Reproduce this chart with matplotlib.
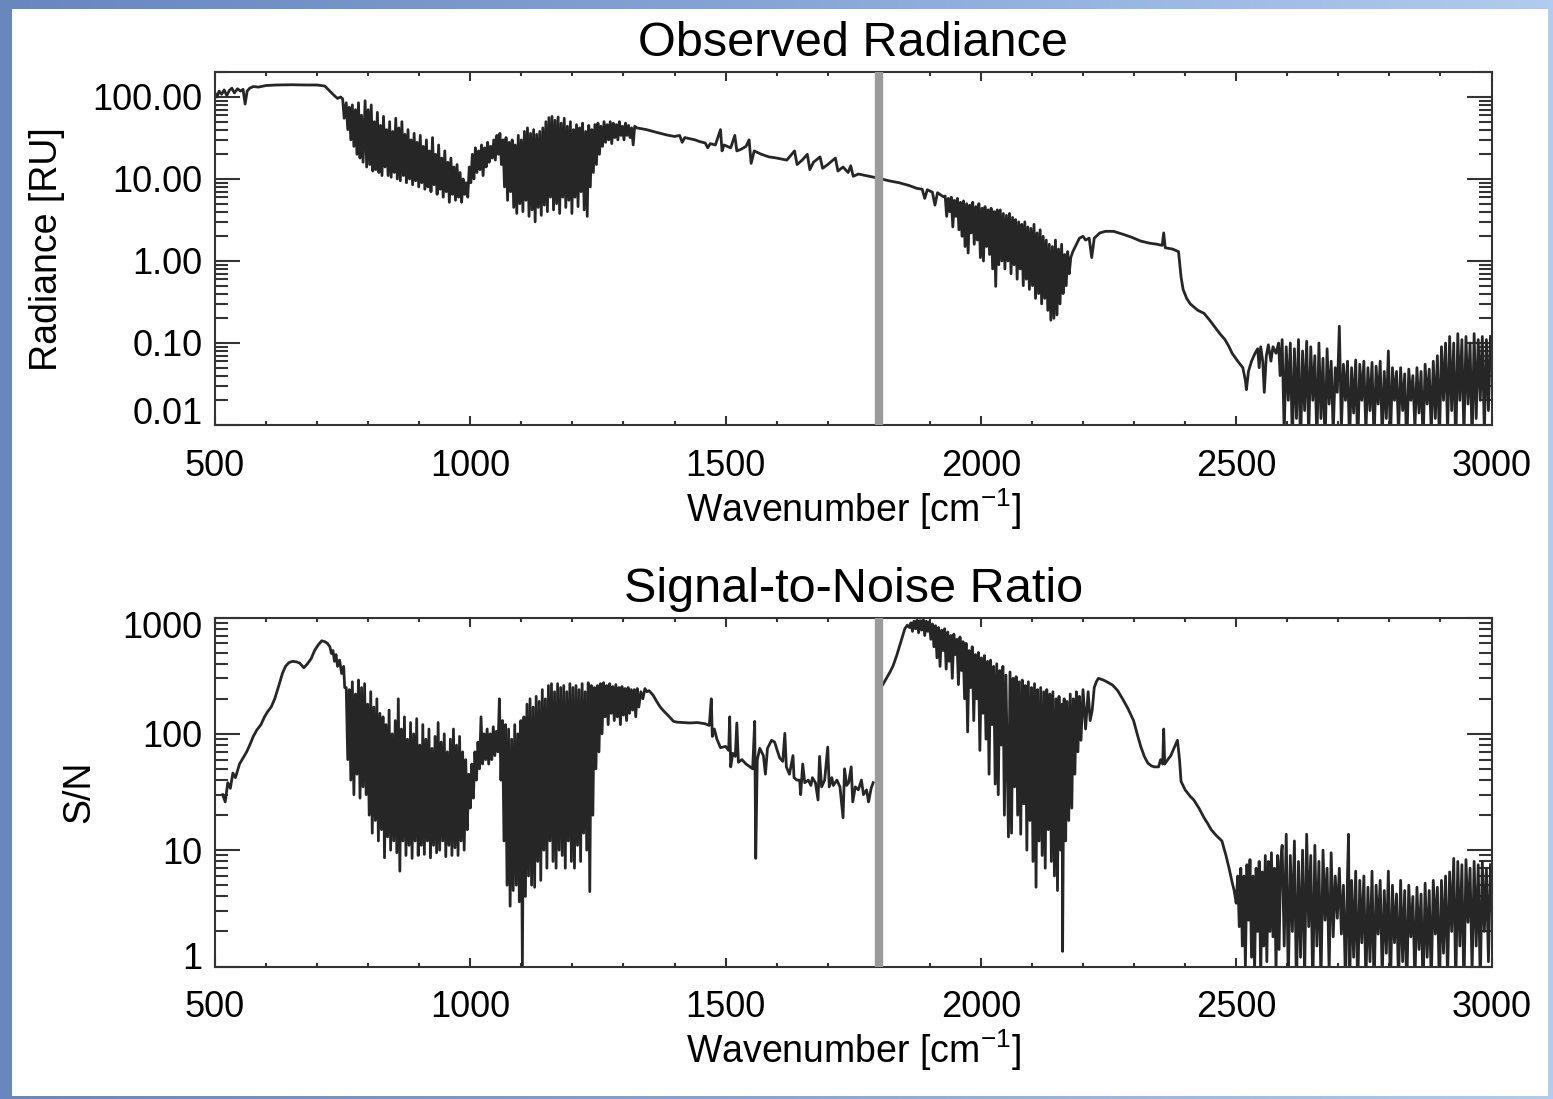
"""Observed radiance and signal-to-noise spectra, two stacked log panels."""
import numpy as np
import matplotlib
matplotlib.use('Agg')
import matplotlib.pyplot as plt
import matplotlib.transforms as mtransforms
from matplotlib.ticker import LogLocator, NullFormatter, MultipleLocator
from matplotlib.colors import LinearSegmentedColormap
from matplotlib.patches import Rectangle

plt.rcParams['font.family'] = ['Liberation Sans', 'DejaVu Sans']
plt.rcParams['mathtext.fontset'] = 'custom'
plt.rcParams['mathtext.rm'] = 'Liberation Sans'
plt.rcParams['mathtext.it'] = 'Liberation Sans:italic'

# ---- radiance [RU], (wavenumber, value) ----
rad_window = [(500, 112), (504, 100), (508, 118), (513, 108), (518, 122), (523, 104), (528, 120),
              (533, 128), (538, 112), (544, 126), (550, 118), (555, 124), (559, 82), (563, 118),
              (568, 128), (575, 134), (585, 132), (600, 138), (620, 140), (650, 141), (680, 140),
              (700, 140), (715, 136), (725, 118), (733, 105), (740, 96), (746, 100)]

rad_band_lw = [(750, 95), (753, 55), (757, 85), (760, 40), (763, 75), (766, 30), (769, 80), (772, 25),
               (775, 70), (778, 20), (781, 85), (784, 18), (787, 60), (790, 16), (794, 90), (797, 14),
               (800, 70), (803, 15), (806, 80), (809, 12.5), (812, 50), (815, 13), (818, 65), (821, 12),
               (824, 45), (827, 11), (830, 58), (833, 14), (836, 40), (839, 11), (842, 50), (845, 10.5),
               (848, 38), (851, 12), (854, 55), (857, 10), (860, 42), (863, 9.5), (866, 50), (869, 11),
               (872, 35), (875, 9), (878, 40), (881, 10), (884, 30), (887, 8.5), (890, 36), (893, 9.5),
               (896, 28), (899, 8), (902, 34), (905, 9), (908, 25), (911, 7.5), (914, 30), (917, 8),
               (920, 22), (923, 7), (926, 32), (929, 8.5), (932, 20), (935, 6.5), (938, 26), (941, 7.5),
               (944, 18), (947, 6), (950, 22), (953, 7), (956, 16), (959, 5.2), (962, 18), (965, 6.5),
               (968, 14), (971, 5.5), (974, 15), (977, 6), (980, 12), (983, 5.2), (986, 10), (989, 6.5),
               (992, 9), (995, 6), (998, 14), (1001, 9), (1004, 20), (1007, 10), (1010, 24), (1013, 12),
               (1016, 22), (1019, 13), (1022, 26), (1025, 11), (1028, 24), (1031, 14), (1034, 28),
               (1037, 16), (1040, 25), (1043, 18), (1046, 30), (1049, 17), (1052, 34), (1055, 20),
               (1058, 36), (1061, 15), (1064, 30), (1067, 8), (1070, 32), (1073, 5.5), (1076, 28),
               (1079, 7), (1082, 30), (1085, 4.5), (1088, 26), (1091, 3.8), (1094, 34), (1097, 5),
               (1100, 30), (1103, 4), (1106, 38), (1109, 5.5), (1112, 42), (1115, 3.5), (1118, 36),
               (1121, 4.2), (1124, 40), (1127, 3.0), (1130, 35), (1133, 4.5), (1136, 38), (1139, 3.6),
               (1142, 42), (1145, 4.8), (1148, 50), (1151, 4.0), (1154, 56), (1157, 6), (1160, 58),
               (1163, 4.2), (1166, 52), (1169, 5), (1172, 57), (1175, 3.8), (1178, 48), (1181, 6),
               (1184, 55), (1187, 4.5), (1190, 44), (1193, 5.5), (1196, 50), (1199, 3.8), (1202, 40),
               (1205, 6), (1208, 46), (1211, 4.6), (1214, 42), (1217, 7), (1220, 48), (1223, 4.2),
               (1226, 38), (1229, 3.5), (1232, 45), (1235, 8), (1238, 40), (1241, 12), (1244, 46),
               (1247, 15), (1250, 48), (1253, 20), (1256, 44), (1259, 25), (1262, 50), (1265, 28),
               (1268, 46), (1271, 30), (1274, 50), (1277, 27), (1280, 48), (1283, 32), (1286, 46),
               (1289, 30), (1292, 50), (1295, 34), (1298, 44), (1301, 30), (1304, 48), (1307, 34),
               (1310, 45), (1313, 32), (1316, 42), (1319, 26), (1322, 44), (1326, 42)]

rad_mid = [(1345, 40), (1365, 37), (1385, 34.4), (1400, 33), (1410, 34), (1415, 28), (1420, 32),
           (1440, 30), (1450, 28.5), (1460, 27.5), (1465, 24), (1470, 27), (1480, 26), (1490, 40),
           (1493, 22), (1497, 26), (1510, 24), (1518, 34), (1522, 22), (1530, 23), (1540, 25),
           (1546, 30), (1550, 15.5), (1556, 22), (1570, 20), (1585, 18.6), (1600, 18), (1620, 17),
           (1635, 22), (1640, 15), (1650, 17), (1660, 20), (1665, 13), (1672, 16), (1685, 18.6),
           (1690, 13.5), (1700, 15), (1715, 18), (1720, 12.5), (1730, 14), (1740, 12), (1745, 14.5),
           (1750, 10.8), (1760, 11.5), (1775, 11), (1790, 10.5), (1800, 10.2), (1820, 9.5),
           (1840, 9), (1860, 8.3), (1874, 7.7), (1885, 7.5), (1890, 5.8), (1895, 7.4), (1905, 6.9),
           (1910, 4.8), (1915, 6.8), (1926, 6.1)]

rad_band_h2o = [(1930, 6.2), (1933, 3.5), (1936, 5.8), (1939, 4), (1942, 6), (1945, 2.6), (1948, 5.5),
                (1951, 3.5), (1954, 5.8), (1957, 2.4), (1960, 5.2), (1963, 2.0), (1966, 5.4), (1969, 1.5),
                (1972, 5.0), (1975, 1.25), (1978, 4.8), (1981, 2.2), (1984, 5.2), (1987, 1.6), (1990, 4.6),
                (1993, 1.8), (1996, 5.0), (1999, 1.1), (2002, 4.4), (2005, 1.0), (2008, 4.6), (2011, 1.5),
                (2014, 4.2), (2017, 1.2), (2020, 4.4), (2023, 0.8), (2026, 4.0), (2029, 0.49), (2032, 4.2),
                (2035, 0.9), (2038, 4.2), (2041, 1.0), (2044, 3.8), (2047, 0.8), (2050, 3.6), (2053, 1.0),
                (2056, 3.8), (2059, 0.7), (2062, 3.4), (2065, 0.9), (2068, 3.2), (2071, 0.6), (2074, 3.0),
                (2077, 0.8), (2080, 2.8), (2083, 0.5), (2086, 3.0), (2089, 0.6), (2092, 2.6), (2095, 0.45),
                (2098, 2.5), (2101, 0.5), (2104, 2.8), (2107, 0.35), (2110, 2.2), (2113, 0.4), (2116, 2.4),
                (2119, 0.3), (2122, 2.0), (2125, 0.35), (2128, 1.8), (2131, 0.25), (2134, 1.6), (2137, 0.19),
                (2140, 1.5), (2143, 0.2), (2146, 1.8), (2149, 0.22), (2152, 1.4), (2155, 0.3), (2158, 1.6),
                (2161, 0.4), (2164, 1.2), (2167, 0.5), (2170, 1.3), (2173, 0.7), (2176, 1.1), (2180, 1.3)]

rad_edge = [(2187, 1.6), (2193, 1.9), (2200, 2.0), (2205, 1.8), (2212, 1.9), (2217, 1.1), (2222, 1.9),
            (2233, 2.2), (2244, 2.3), (2260, 2.3), (2280, 2.1), (2295, 1.95), (2313, 1.75), (2330, 1.65),
            (2345, 1.6), (2355, 1.55), (2358, 2.2), (2361, 1.45), (2375, 1.4), (2387, 1.3), (2392, 0.64),
            (2396, 0.45), (2403, 0.35), (2410, 0.3), (2425, 0.25), (2437, 0.23), (2448, 0.19),
            (2457, 0.16), (2468, 0.13), (2478, 0.11), (2486, 0.09), (2492, 0.075), (2503, 0.06),
            (2513, 0.05), (2518, 0.035), (2520, 0.027), (2524, 0.045), (2530, 0.06), (2537, 0.075),
            (2542, 0.085), (2545, 0.05), (2548, 0.09), (2552, 0.06), (2555, 0.025), (2559, 0.07),
            (2563, 0.095), (2568, 0.06), (2572, 0.09), (2578, 0.075), (2583, 0.1), (2586, 0.04)]

rad_noise = [(2590, 0.11), (2594, 0.008), (2598, 0.09), (2602, 0.02), (2606, 0.1), (2610, 0.006),
             (2614, 0.085), (2618, 0.012), (2622, 0.11), (2626, 0.005), (2630, 0.08), (2634, 0.015),
             (2638, 0.105), (2642, 0.007), (2646, 0.09), (2650, 0.02), (2654, 0.07), (2658, 0.006),
             (2662, 0.1), (2666, 0.012), (2670, 0.065), (2674, 0.005), (2678, 0.085), (2682, 0.018),
             (2686, 0.06), (2690, 0.008), (2694, 0.05), (2698, 0.025), (2702, 0.16), (2706, 0.009),
             (2710, 0.055), (2714, 0.02), (2718, 0.06), (2722, 0.006), (2726, 0.05), (2730, 0.014),
             (2734, 0.062), (2738, 0.005), (2742, 0.055), (2746, 0.02), (2750, 0.06), (2754, 0.008),
             (2758, 0.05), (2762, 0.015), (2766, 0.058), (2770, 0.006), (2774, 0.052), (2778, 0.018),
             (2782, 0.06), (2786, 0.007), (2790, 0.045), (2794, 0.012), (2798, 0.08), (2802, 0.006),
             (2806, 0.05), (2810, 0.02), (2814, 0.045), (2818, 0.008), (2822, 0.05), (2826, 0.015),
             (2830, 0.042), (2834, 0.005), (2838, 0.048), (2842, 0.02), (2846, 0.04), (2850, 0.009),
             (2854, 0.05), (2858, 0.014), (2862, 0.045), (2866, 0.006), (2870, 0.055), (2874, 0.018),
             (2878, 0.048), (2882, 0.008), (2886, 0.06), (2890, 0.012), (2894, 0.07), (2898, 0.006),
             (2902, 0.09), (2906, 0.02), (2910, 0.1), (2914, 0.008), (2918, 0.12), (2922, 0.015),
             (2926, 0.1), (2930, 0.005), (2934, 0.13), (2938, 0.02), (2942, 0.11), (2946, 0.007),
             (2950, 0.12), (2954, 0.018), (2958, 0.1), (2962, 0.006), (2966, 0.13), (2970, 0.012),
             (2974, 0.11), (2978, 0.02), (2982, 0.12), (2986, 0.008), (2990, 0.11), (2994, 0.015),
             (2998, 0.12)]

# ---- signal-to-noise ratio ----
sn_rise = [(515, 30), (520, 26), (525, 38), (530, 34), (535, 46), (540, 42), (548, 55), (555, 62),
           (562, 70), (568, 80), (575, 95), (582, 108), (590, 120), (597, 140), (603, 155), (610, 170),
           (617, 200), (625, 260), (632, 330), (638, 380), (645, 410), (652, 420), (660, 415),
           (666, 405), (674, 370), (680, 395), (688, 440), (695, 520), (702, 580), (709, 630),
           (715, 620), (720, 600), (725, 560), (728, 490), (731, 520), (734, 420), (737, 480),
           (740, 380), (744, 430), (748, 330), (752, 380), (754, 250)]

sn_band_lw = [(757, 250), (760, 60), (763, 240), (766, 40), (769, 280), (772, 30), (775, 220), (778, 45),
              (781, 290), (784, 28), (787, 250), (790, 35), (793, 270), (796, 30), (799, 180), (802, 20),
              (805, 230), (808, 14), (811, 170), (814, 18), (817, 200), (820, 12), (823, 150), (826, 15),
              (829, 140), (832, 8.6), (835, 120), (838, 13), (841, 160), (844, 10), (847, 100), (850, 12),
              (853, 130), (856, 9.5), (859, 200), (862, 6.6), (865, 110), (868, 12), (871, 140), (874, 9),
              (877, 90), (880, 11), (883, 125), (886, 8.5), (889, 100), (892, 12), (895, 135), (898, 9),
              (901, 80), (904, 11), (907, 120), (910, 9.2), (913, 90), (916, 12), (919, 110), (922, 8.6),
              (925, 75), (928, 11), (931, 95), (934, 9.5), (937, 125), (940, 10), (943, 85), (946, 12),
              (949, 100), (952, 8.8), (955, 70), (958, 11), (961, 90), (964, 9), (967, 110), (970, 10.5),
              (973, 80), (976, 9), (979, 95), (982, 12), (985, 70), (988, 10), (991, 60), (994, 15),
              (997, 45), (1000, 23), (1003, 55), (1006, 28), (1009, 70), (1012, 40), (1015, 85),
              (1018, 50), (1021, 140), (1024, 55), (1027, 100), (1030, 60), (1033, 110), (1036, 55),
              (1039, 100), (1042, 60), (1045, 115), (1048, 65), (1051, 105), (1054, 70), (1057, 200),
              (1060, 40), (1063, 130), (1066, 12), (1069, 120), (1072, 5), (1075, 110), (1078, 3.3),
              (1081, 90), (1084, 4.5), (1087, 120), (1090, 5), (1093, 100), (1096, 3.6), (1099, 130),
              (1102, 1.0), (1105, 140), (1108, 4), (1111, 180), (1114, 6), (1117, 200), (1120, 5),
              (1123, 170), (1126, 4.8), (1129, 210), (1132, 8), (1135, 190), (1138, 5.5), (1141, 240),
              (1144, 10), (1147, 200), (1150, 7), (1153, 260), (1156, 12), (1159, 270), (1162, 8),
              (1165, 230), (1168, 7), (1171, 270), (1174, 10), (1177, 250), (1180, 9), (1183, 260),
              (1186, 7), (1189, 230), (1192, 12), (1195, 270), (1198, 8), (1201, 250), (1204, 7),
              (1207, 260), (1210, 11), (1213, 240), (1216, 8), (1219, 270), (1222, 14), (1225, 230),
              (1228, 10), (1231, 275), (1234, 4.4), (1237, 260), (1240, 20), (1243, 250), (1246, 50),
              (1249, 260), (1252, 70), (1255, 270), (1258, 100), (1261, 275), (1264, 140), (1267, 260),
              (1270, 120), (1273, 270), (1276, 150), (1279, 255), (1282, 130), (1285, 265), (1288, 140),
              (1291, 250), (1294, 120), (1297, 255), (1300, 145), (1303, 245), (1306, 130), (1309, 250),
              (1312, 150), (1315, 240), (1318, 160), (1321, 240), (1324, 140), (1327, 245), (1330, 170),
              (1334, 230), (1338, 200), (1342, 245), (1346, 230), (1350, 235)]

sn_mid = [(1358, 215), (1365, 190), (1372, 170), (1380, 155), (1388, 143), (1398, 128), (1405, 126),
          (1417, 125), (1430, 124), (1445, 125), (1460, 122), (1468, 118), (1472, 200), (1474, 95),
          (1478, 110), (1483, 90), (1490, 76), (1500, 78), (1506, 72), (1508, 140), (1510, 52),
          (1514, 68), (1519, 64), (1522, 124), (1525, 57), (1532, 60), (1540, 55), (1548, 52),
          (1553, 50), (1557, 128), (1559, 8.5), (1562, 60), (1567, 75), (1574, 65), (1578, 45),
          (1582, 75), (1590, 88), (1596, 85), (1602, 70), (1606, 62), (1612, 58), (1616, 101),
          (1619, 52), (1625, 45), (1632, 65), (1634, 42), (1640, 40), (1645, 40), (1647, 30),
          (1651, 55), (1655, 38), (1662, 40), (1667, 36), (1670, 42), (1676, 38), (1681, 27),
          (1684, 64), (1688, 35), (1694, 40), (1700, 77), (1703, 35), (1708, 42), (1711, 36),
          (1718, 40), (1724, 35), (1730, 19), (1733, 50), (1737, 36), (1741, 38), (1746, 52),
          (1749, 26), (1754, 35), (1760, 33), (1766, 40), (1770, 30), (1776, 33), (1780, 26),
          (1785, 34), (1789, 38)]

sn_peak = [(1808, 265), (1815, 300), (1822, 340), (1828, 384), (1835, 470), (1841, 574), (1846, 680),
           (1851, 800), (1856, 860), (1860, 820), (1863, 900), (1866, 760), (1869, 930), (1872, 800),
           (1875, 950), (1878, 740), (1881, 940), (1884, 780), (1887, 960), (1890, 700), (1893, 930),
           (1896, 760), (1899, 920), (1902, 650), (1905, 880), (1908, 560), (1911, 850), (1914, 450),
           (1917, 820), (1920, 380), (1923, 780), (1926, 520), (1929, 800), (1932, 360), (1935, 750),
           (1938, 420), (1941, 700), (1944, 300), (1947, 720), (1950, 480), (1953, 650), (1956, 265),
           (1959, 680), (1962, 350), (1965, 620), (1968, 200), (1971, 600), (1974, 104), (1977, 520),
           (1980, 250), (1983, 560), (1986, 130), (1989, 480), (1992, 200), (1995, 500), (1998, 72),
           (2001, 450), (2004, 150), (2007, 470), (2010, 90), (2013, 420), (2016, 45), (2019, 430),
           (2022, 120), (2025, 380), (2028, 37), (2031, 400), (2034, 30), (2037, 350), (2040, 80),
           (2043, 380), (2046, 20), (2049, 320), (2052, 50), (2054, 13), (2057, 340), (2060, 14),
           (2063, 300), (2066, 35), (2069, 310), (2072, 20), (2075, 280), (2078, 13.7), (2081, 290),
           (2084, 25), (2087, 260), (2090, 10), (2093, 280), (2096, 18), (2099, 250), (2102, 8),
           (2105, 270), (2108, 4.8), (2111, 240), (2114, 12), (2117, 250), (2120, 9), (2123, 230),
           (2126, 7), (2129, 240), (2132, 15), (2135, 220), (2138, 8), (2141, 230), (2144, 6),
           (2147, 200), (2150, 4.5), (2153, 210), (2156, 10), (2159, 180), (2160, 1.35), (2163, 200),
           (2166, 12), (2169, 190), (2172, 18), (2175, 220), (2178, 23), (2181, 200), (2184, 45),
           (2187, 230), (2190, 70), (2193, 210), (2196, 88), (2200, 240), (2205, 110), (2210, 230),
           (2214, 130), (2218, 160), (2222, 250), (2226, 280)]

sn_fall = [(2230, 300), (2240, 290), (2250, 275), (2258, 262), (2268, 235), (2278, 198), (2288, 165),
           (2299, 130), (2306, 100), (2313, 78), (2320, 64), (2327, 56), (2334, 53), (2340, 52),
           (2348, 52), (2352, 60), (2356, 55), (2358, 110), (2360, 55), (2366, 60), (2372, 65),
           (2378, 75), (2385, 88), (2389, 60), (2392, 39), (2400, 33), (2410, 29), (2417, 27),
           (2427, 23), (2437, 19), (2444, 17), (2451, 15), (2460, 13.5), (2472, 12), (2480, 9),
           (2486, 7), (2492, 5.3), (2496, 4.5), (2500, 3.5), (2503, 6), (2506, 2.2), (2509, 7),
           (2512, 1.5), (2515, 6), (2518, 1.0), (2521, 7.5), (2524, 2.5), (2527, 8.3), (2530, 1.2),
           (2533, 6), (2536, 0.9), (2539, 7), (2542, 2), (2545, 8), (2548, 0.8), (2551, 6.5),
           (2554, 1.5), (2557, 9), (2560, 1.1), (2563, 8), (2566, 2), (2569, 9.5), (2572, 1.8),
           (2575, 7), (2578, 0.9), (2581, 9), (2584, 1.4), (2587, 8)]

sn_noise = [(2590, 11), (2594, 1.5), (2598, 13.7), (2602, 0.7), (2606, 9), (2610, 2), (2614, 12),
            (2618, 0.6), (2622, 8), (2626, 1.2), (2630, 10), (2634, 0.8), (2638, 13.7), (2642, 2.2),
            (2646, 9), (2650, 0.6), (2654, 11), (2658, 1.5), (2662, 8), (2666, 0.7), (2670, 10),
            (2674, 2.5), (2678, 7), (2682, 0.9), (2686, 9.5), (2690, 1.8), (2694, 6), (2698, 2.6),
            (2702, 7), (2706, 1.9), (2710, 5), (2714, 0.7), (2718, 6), (2720, 13.7), (2722, 0.6),
            (2726, 5.5), (2730, 1.2), (2734, 6.6), (2738, 0.6), (2742, 5.5), (2746, 1.6), (2750, 6),
            (2754, 0.7), (2758, 4.8), (2762, 1.1), (2766, 6.6), (2770, 0.6), (2774, 5), (2778, 1.9),
            (2782, 5.5), (2786, 0.8), (2790, 4.5), (2794, 1.3), (2798, 6.6), (2802, 0.6), (2806, 5),
            (2810, 1.6), (2814, 4.2), (2818, 0.7), (2822, 5.5), (2826, 1.1), (2830, 4.5), (2834, 0.6),
            (2838, 5), (2842, 1.8), (2846, 4), (2850, 0.7), (2854, 4.8), (2858, 1.4), (2862, 4.2),
            (2866, 0.6), (2870, 5.2), (2874, 1.2), (2878, 4.5), (2882, 0.7), (2886, 5.5), (2890, 1.9),
            (2894, 4.8), (2898, 0.6), (2902, 5.5), (2906, 1.3), (2910, 6), (2914, 0.8), (2918, 6.5),
            (2922, 2), (2926, 8.5), (2930, 0.7), (2934, 8), (2938, 1.5), (2942, 7.5), (2946, 0.6),
            (2950, 8.3), (2954, 2.4), (2958, 7), (2962, 0.9), (2966, 8), (2970, 1.5), (2974, 7.5),
            (2978, 0.7), (2982, 8), (2986, 2), (2990, 7), (2994, 1.1), (2998, 7.5)]

x_ticks = [500, 1000, 1500, 2000, 2500, 3000]
rad_ticks = [0.01, 0.1, 1, 10, 100]
rad_labels = ['0.01', '0.10', '1.00', '10.00', '100.00']
sn_ticks = [1, 10, 100, 1000]
sn_labels = ['1', '10', '100', '1000']
band_split = 1800  # detector band boundary


def xy(*segments):
    arr = np.array([p for seg in segments for p in seg], dtype=float)
    return arr[:, 0], arr[:, 1]


W, H = 1553, 1099
fig = plt.figure(figsize=(W / 100, H / 100), dpi=100)

# blue frame around a white page
bg = fig.add_axes([0, 0, 1, 1], zorder=-10)
grad = np.linspace(0, 1, 256).reshape(1, -1)
frame_cmap = LinearSegmentedColormap.from_list('frame', ['#6787bd', '#86a6d8', '#b2cbee'])
bg.imshow(grad, aspect='auto', extent=[0, 1, 0, 1], cmap=frame_cmap)
bg.add_patch(Rectangle((12 / W, 1 - 1096 / H), (1548 - 12) / W, (1096 - 9) / H,
                       facecolor='white', edgecolor='none'))
bg.set_xlim(0, 1)
bg.set_ylim(0, 1)
bg.axis('off')

ax1 = fig.add_axes([215 / W, 1 - 425 / H, 1276.5 / W, 352.7 / H])
ax2 = fig.add_axes([215 / W, 1 - 966.5 / H, 1276.5 / W, 349 / H])

line_kw = dict(color='#262626', lw=2.0)

wn, val = xy(rad_window, rad_band_lw, rad_mid, rad_band_h2o, rad_edge, rad_noise)
ax1.plot(wn, val, **line_kw)

wn, val = xy(sn_rise, sn_band_lw, sn_mid)
ax2.plot(wn, val, **line_kw)
wn, val = xy(sn_peak, sn_fall, sn_noise)
ax2.plot(wn, val, **line_kw)


def nudge(labels, text, dy_px):
    for lab in labels:
        if lab.get_text() == text:
            off = mtransforms.ScaledTranslation(0, dy_px / 100, fig.dpi_scale_trans)
            lab.set_transform(lab.get_transform() + off)


def style(ax, title, ylabel, ylim, ticks, labels, label_x):
    ax.axvline(band_split, color='#9a9a9a', lw=6, zorder=4)
    ax.set_xlim(500, 3000)
    ax.set_yscale('log')
    ax.set_ylim(*ylim)
    ax.set_xticks(x_ticks)
    ax.xaxis.set_minor_locator(MultipleLocator(100))
    ax.set_yticks(ticks)
    labs = ax.set_yticklabels(labels)
    ax.yaxis.set_minor_locator(LogLocator(base=10, subs=np.arange(2, 10), numticks=20))
    ax.yaxis.set_minor_formatter(NullFormatter())
    ax.tick_params(which='both', direction='in', top=True, right=True,
                   color='#333333', width=1.5)
    ax.tick_params(axis='y', which='major', length=18, labelsize=26, pad=9)
    ax.tick_params(axis='y', which='minor', length=9.5)
    ax.tick_params(axis='x', which='major', length=6.5, labelsize=26, pad=17)
    ax.tick_params(axis='x', which='minor', length=3)
    for sp in ax.spines.values():
        sp.set_linewidth(1.5)
        sp.set_color('#333333')
    ax.set_title(title, fontsize=35, pad=11.5)
    ax.set_xlabel('Wavenumber [cm$^{-1}$]', fontsize=27, labelpad=2)
    ax.set_ylabel(ylabel, fontsize=27)
    ax.yaxis.set_label_coords(label_x, 0.5)
    return labs


labs1 = style(ax1, 'Observed Radiance', 'Radiance [RU]', (0.01, 200), rad_ticks, rad_labels, -0.1175)
labs2 = style(ax2, 'Signal-to-Noise Ratio', 'S/N', (1, 1000), sn_ticks, sn_labels, -0.0924)

# end labels sit a little inside the axis, as in the original
nudge(labs1, '0.01', 15)
nudge(labs2, '1', 11)
nudge(labs2, '1000', -7)

fig.savefig('out.png', dpi=100)
